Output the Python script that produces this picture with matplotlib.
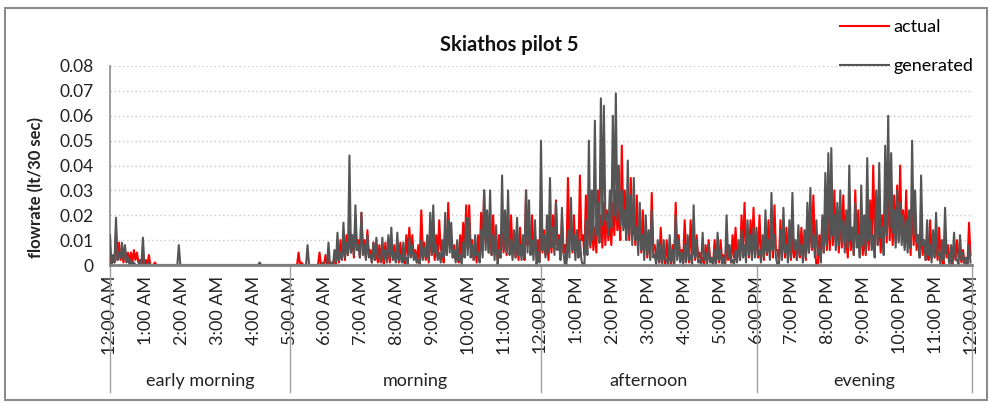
import numpy as np
import matplotlib.pyplot as plt
from matplotlib.patches import Rectangle
from matplotlib.transforms import blended_transform_factory

plt.rcParams['font.family'] = ['Lato', 'DejaVu Sans']

# flowrate in 1/1000 lt per 30 sec, read in 5-minute slots (12 per hour):
# the high value at the start of each slot and the low value inside it
generated_high = [
    12, 4, 19, 5, 9, 8, 3, 2, 1, 0, 2, 11,
    0, 1, 0, 0, 0, 0, 0, 0, 0, 0, 0, 8,
    0, 0, 0, 0, 0, 0, 0, 0, 0, 0, 0, 0,
    0, 0, 0, 0, 0, 0, 0, 0, 0, 0, 0, 0,
    0, 0, 1, 0, 0, 0, 0, 0, 0, 0, 0, 0,
    0, 0, 0, 0, 0, 0, 8, 0, 0, 0, 0, 1,
    0, 9, 1, 6, 13, 5, 17, 9, 44, 12, 24, 8,
    21, 8, 12, 4, 9, 11, 3, 11, 6, 12, 15, 5,
    13, 4, 9, 3, 11, 8, 5, 2, 10, 7, 12, 21,
    24, 8, 5, 10, 21, 18, 17, 6, 10, 4, 9, 19,
    19, 8, 12, 5, 14, 30, 22, 30, 12, 16, 6, 36,
    22, 30, 10, 14, 19, 8, 12, 30, 26, 10, 18, 5,
    50, 12, 20, 35, 15, 25, 10, 23, 0, 14, 27, 12,
    14, 10, 0, 18, 50, 30, 58, 25, 67, 64, 20, 30,
    60, 69, 40, 30, 22, 42, 28, 35, 15, 25, 12, 20,
    14, 22, 4, 10, 8, 10, 2, 12, 6, 20, 10, 5,
    8, 12, 4, 24, 10, 2, 13, 5, 8, 3, 6, 13,
    6, 3, 20, 8, 2, 6, 10, 14, 8, 18, 12, 15,
    15, 6, 12, 22, 10, 29, 12, 0, 14, 23, 8, 18,
    29, 10, 16, 8, 14, 25, 31, 12, 18, 6, 20, 37,
    45, 47, 20, 25, 30, 18, 22, 40, 15, 25, 12, 32,
    20, 43, 18, 12, 30, 41, 15, 48, 60, 45, 22, 30,
    25, 20, 18, 22, 50, 30, 12, 36, 10, 18, 8, 14,
    21, 5, 10, 23, 4, 8, 13, 2, 12, 5, 3, 8,
]
generated_low = [
    0, 1, 2, 3, 2, 1, 0, 0, 0, 0, 0, 0,
    0, 0, 0, 0, 0, 0, 0, 0, 0, 0, 0, 0,
    0, 0, 0, 0, 0, 0, 0, 0, 0, 0, 0, 0,
    0, 0, 0, 0, 0, 0, 0, 0, 0, 0, 0, 0,
    0, 0, 0, 0, 0, 0, 0, 0, 0, 0, 0, 0,
    0, 0, 0, 0, 0, 0, 0, 0, 0, 0, 0, 0,
    0, 0, 0, 1, 2, 2, 3, 4, 5, 4, 6, 3,
    4, 2, 3, 1, 2, 3, 1, 2, 1, 3, 2, 1,
    2, 1, 2, 0, 3, 2, 1, 0, 2, 3, 2, 4,
    5, 2, 1, 3, 4, 5, 3, 1, 2, 0, 3, 4,
    3, 2, 4, 1, 3, 6, 5, 4, 2, 0, 3, 6,
    5, 4, 2, 3, 4, 2, 3, 5, 4, 2, 0, 1,
    6, 3, 5, 7, 4, 6, 2, 5, 0, 3, 6, 2,
    3, 2, 0, 4, 8, 10, 12, 9, 16, 18, 12, 15,
    20, 18, 16, 14, 10, 12, 8, 10, 4, 6, 2, 4,
    2, 3, 0, 1, 0, 2, 0, 1, 0, 2, 1, 0,
    1, 2, 0, 3, 1, 0, 2, 0, 1, 0, 0, 2,
    0, 0, 3, 1, 0, 1, 2, 3, 1, 4, 2, 3,
    4, 1, 3, 5, 2, 6, 3, 0, 2, 5, 1, 3,
    6, 2, 4, 1, 3, 5, 7, 3, 4, 1, 5, 8,
    10, 12, 6, 8, 9, 5, 7, 10, 4, 7, 3, 8,
    5, 10, 6, 3, 8, 11, 4, 12, 15, 13, 7, 9,
    8, 6, 5, 7, 12, 9, 3, 8, 2, 4, 1, 3,
    4, 0, 2, 5, 0, 1, 3, 0, 2, 0, 0, 1,
]

actual_high = [
    4, 3, 13, 9, 5, 6, 5, 5, 6, 5, 2, 3,
    2, 4, 0, 1, 0, 0, 0, 0, 0, 0, 0, 0,
    0, 0, 0, 0, 0, 0, 0, 0, 0, 0, 0, 0,
    0, 0, 0, 0, 0, 0, 0, 0, 0, 0, 0, 0,
    0, 0, 0, 0, 0, 0, 0, 0, 0, 0, 0, 0,
    0, 0, 0, 5, 1, 0, 0, 0, 0, 0, 5, 0,
    4, 2, 0, 3, 8, 10, 9, 12, 14, 11, 18, 10,
    21, 10, 14, 6, 9, 5, 8, 4, 9, 6, 10, 8,
    6, 9, 3, 12, 15, 12, 6, 8, 22, 9, 7, 14,
    10, 12, 18, 6, 14, 25, 12, 8, 5, 12, 17, 24,
    24, 10, 7, 12, 21, 30, 18, 15, 20, 10, 12, 18,
    15, 18, 20, 12, 10, 15, 9, 30, 16, 20, 12, 10,
    18, 14, 10, 16, 20, 26, 12, 18, 8, 35, 16, 20,
    10, 36, 12, 28, 22, 18, 15, 30, 20, 25, 22, 18,
    25, 30, 22, 48, 30, 25, 35, 20, 28, 15, 22, 10,
    12, 29, 8, 6, 15, 4, 10, 3, 8, 25, 12, 6,
    18, 6, 18, 8, 12, 5, 3, 8, 10, 2, 10, 6,
    10, 4, 8, 5, 12, 15, 8, 20, 25, 10, 18, 23,
    10, 20, 8, 15, 18, 14, 24, 6, 18, 12, 15, 10,
    12, 8, 12, 15, 10, 18, 20, 28, 0, 12, 18, 22,
    20, 25, 30, 18, 22, 28, 10, 20, 15, 30, 22, 14,
    12, 20, 26, 40, 25, 18, 20, 30, 35, 25, 28, 32,
    40, 22, 30, 15, 28, 20, 12, 15, 10, 8, 18, 12,
    10, 15, 4, 12, 8, 2, 8, 10, 4, 6, 2, 17,
]
actual_low = [
    0, 1, 2, 2, 1, 2, 1, 1, 2, 1, 0, 0,
    0, 0, 0, 0, 0, 0, 0, 0, 0, 0, 0, 0,
    0, 0, 0, 0, 0, 0, 0, 0, 0, 0, 0, 0,
    0, 0, 0, 0, 0, 0, 0, 0, 0, 0, 0, 0,
    0, 0, 0, 0, 0, 0, 0, 0, 0, 0, 0, 0,
    0, 0, 0, 0, 0, 0, 0, 0, 0, 0, 0, 0,
    0, 0, 0, 0, 1, 3, 2, 4, 5, 3, 6, 3,
    6, 3, 4, 1, 2, 1, 2, 0, 2, 1, 3, 2,
    1, 3, 0, 4, 5, 3, 1, 2, 6, 2, 1, 4,
    2, 3, 6, 1, 4, 8, 3, 2, 1, 3, 5, 7,
    7, 2, 1, 3, 6, 9, 5, 4, 6, 2, 3, 5,
    4, 6, 5, 3, 2, 4, 2, 8, 5, 6, 3, 2,
    5, 4, 2, 5, 6, 8, 3, 5, 2, 10, 5, 6,
    3, 10, 4, 8, 7, 6, 5, 9, 7, 8, 10, 8,
    12, 14, 10, 16, 12, 10, 12, 8, 10, 5, 7, 3,
    3, 8, 2, 1, 4, 0, 2, 0, 1, 6, 3, 1,
    5, 1, 4, 2, 3, 1, 0, 2, 3, 0, 2, 1,
    2, 0, 2, 1, 3, 4, 2, 5, 7, 3, 5, 6,
    3, 5, 2, 4, 5, 3, 6, 1, 5, 3, 4, 2,
    3, 2, 3, 4, 2, 5, 6, 8, 0, 3, 5, 6,
    6, 8, 9, 5, 7, 8, 3, 6, 4, 9, 7, 4,
    4, 6, 8, 12, 8, 5, 6, 9, 10, 8, 9, 10,
    12, 7, 9, 4, 8, 6, 3, 4, 2, 2, 5, 3,
    2, 4, 0, 3, 2, 0, 2, 3, 1, 1, 0, 4,
]

hour_labels = ['12:00 AM', '1:00 AM', '2:00 AM', '3:00 AM', '4:00 AM', '5:00 AM',
               '6:00 AM', '7:00 AM', '8:00 AM', '9:00 AM', '10:00 AM', '11:00 AM',
               '12:00 PM', '1:00 PM', '2:00 PM', '3:00 PM', '4:00 PM', '5:00 PM',
               '6:00 PM', '7:00 PM', '8:00 PM', '9:00 PM', '10:00 PM', '11:00 PM',
               '12:00 AM']
periods = ['early morning', 'morning', 'afternoon', 'evening']
period_edges = [0, 5, 12, 18, 24]
y_ticks = [0, 0.01, 0.02, 0.03, 0.04, 0.05, 0.06, 0.07, 0.08]


def merge(high, low):
    # high at the slot start, low half-way through the slot (lt/30 sec)
    out = np.empty(2 * len(high))
    out[0::2] = high
    out[1::2] = low
    return out / 1000.0


step_min = 2.5
actual = merge(actual_high, actual_low)
generated = merge(generated_high, generated_low)
hours = np.arange(len(actual)) * step_min / 60.0

W, H = 989, 403
fig = plt.figure(figsize=(W / 100, H / 100), dpi=100)
ax = fig.add_axes([110 / W, (H - 265) / H, 862 / W, 199 / H])

ax.plot(hours, actual, color='#ff0000', lw=1.5, label='actual', zorder=3)
ax.plot(hours, generated, color='#555555', lw=1.5, label='generated', zorder=4)

ax.set_xlim(0, 24)
ax.set_ylim(0, 0.08)
ax.set_xticks(range(25))
ax.set_xticklabels(hour_labels, rotation=90, va='top', ha='center', fontsize=13, color='#222222')
ax.set_yticks(y_ticks)
ax.set_yticklabels(['0'] + [f'{v:.2f}' for v in y_ticks[1:]], fontsize=12.5, color='#222222')
ax.tick_params(axis='x', length=0, pad=8)
ax.tick_params(axis='y', length=0, pad=12)

for v in y_ticks[1:]:
    ax.axhline(v, color='#c8c8c8', lw=1, ls=(0, (1, 2)), zorder=1)

for s in ['top', 'right']:
    ax.spines[s].set_visible(False)
ax.spines['left'].set_color('#8c8c8c')
ax.spines['left'].set_linewidth(1.2)
ax.spines['bottom'].set_color('#7f7f7f')
ax.spines['bottom'].set_linewidth(2)
ax.spines['bottom'].set_zorder(5)

# period separators and names below the hour labels
tr = blended_transform_factory(ax.transData, ax.transAxes)
y_sep = (265 - 392) / 199
for e in period_edges:
    ax.plot([e, e], [0, y_sep], color='#a0a0a0', lw=1, transform=tr, clip_on=False)
for name, a, b in zip(periods, period_edges[:-1], period_edges[1:]):
    ax.text((a + b) / 2, (265 - 381) / 199, name, transform=tr, ha='center', va='center',
            fontsize=13, color='#222222')

ax.set_ylabel('flowrate (lt/30 sec)', fontsize=12, fontweight='bold', color='#222222')
ax.yaxis.set_label_coords((44 - 110) / 862, 0.39)

fig.text(509 / W, (H - 45) / H, 'Skiathos pilot 5', ha='center', va='center',
         fontsize=14.5, fontweight='bold', color='#111111')

ax.legend(loc='upper left', bbox_to_anchor=(840 / W, (H - 19) / H),
          bbox_transform=fig.transFigure, frameon=False, fontsize=13,
          handlelength=2.7, handletextpad=0.25, labelspacing=1.3, borderpad=0,
          borderaxespad=0)

fig.patches.append(Rectangle((5 / W, 3 / H), 982 / W, 392 / H, transform=fig.transFigure,
                             fill=False, ec='#8c8c8c', lw=1.5))

fig.savefig('out.png', dpi=100)
